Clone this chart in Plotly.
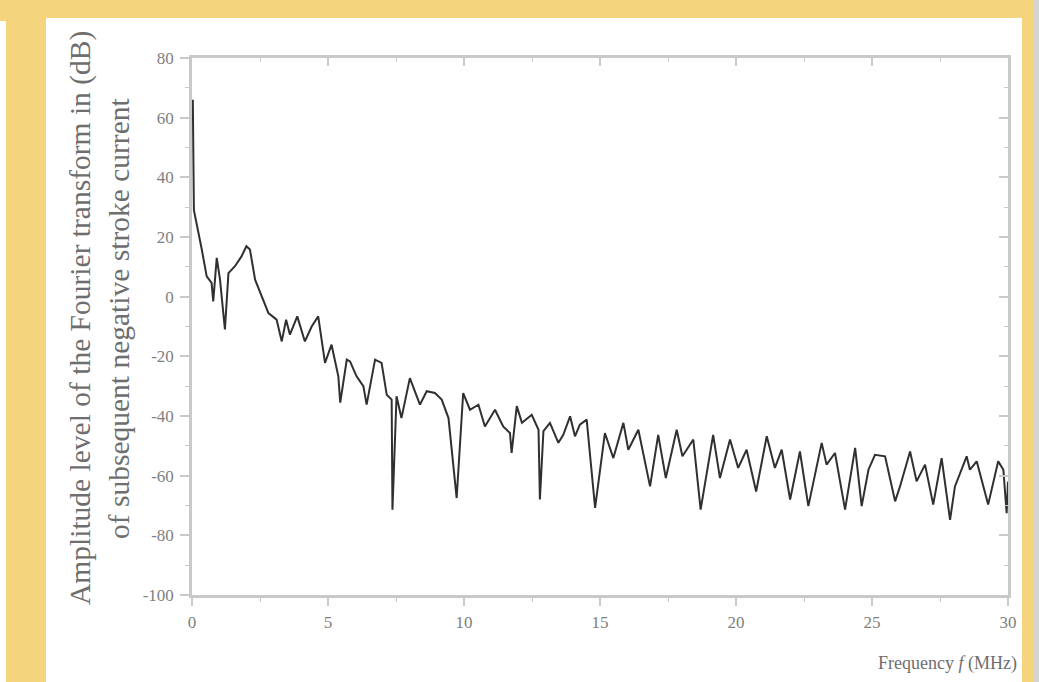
import plotly.graph_objects as go

# ---------------- data ----------------
freq_mhz = [0.03, 0.07, 0.36, 0.54, 0.72, 0.78, 0.91, 1.03, 1.21, 1.34, 1.58, 1.82, 2.0, 2.13,
            2.32, 2.56, 2.81, 3.11, 3.3, 3.46, 3.6, 3.87, 4.15, 4.4, 4.64, 4.89, 5.13, 5.38,
            5.45, 5.69, 5.81, 6.05, 6.3, 6.42, 6.73, 6.97, 7.16, 7.34, 7.37, 7.52, 7.7, 8.01,
            8.38, 8.63, 8.93, 9.18, 9.43, 9.73, 9.97, 10.22, 10.53, 10.77, 11.14, 11.44, 11.69,
            11.75, 11.94, 12.13, 12.49, 12.74, 12.79, 12.92, 13.16, 13.47, 13.65, 13.9, 14.08,
            14.26, 14.51, 14.82, 15.18, 15.49, 15.86, 16.04, 16.41, 16.84, 17.14, 17.42, 17.82,
            18.03, 18.43, 18.7, 19.16, 19.41, 19.78, 20.08, 20.39, 20.74, 21.13, 21.43, 21.68,
            21.99, 22.35, 22.66, 23.15, 23.33, 23.64, 24.01, 24.38, 24.62, 24.87, 25.11, 25.48,
            25.85, 26.03, 26.4, 26.64, 26.95, 27.25, 27.56, 27.87, 28.05, 28.48, 28.6, 28.85,
            29.27, 29.64, 29.83, 29.95, 30.0]
amplitude_db = [66, 29, 15.8, 6.8, 4.6, -1.6, 13, 5.7, -11, 7.9, 10.2, 13.5, 16.9, 15.8,
                5.7, 0.1, -5.5, -7.7, -15, -7.7, -12.7, -6.6, -15, -10, -6.6, -22.2, -16.1, -26.7,
                -35.5, -21.1, -21.7, -26.7, -30, -36.2, -21.1, -22.2, -32.9, -34.5, -71.4, -33.4, -40.7, -27.3,
                -36.2, -31.7, -32.3, -34.5, -40.7, -67.5, -32.3, -37.9, -36.2, -43.5, -37.9, -43.5, -45.7,
                -52.4, -36.7, -42.3, -39.6, -44.6, -68, -45.1, -42.3, -49, -46.3, -40.1, -46.8,
                -42.9, -41.2, -70.8, -45.7, -54.1, -42.3, -51.3, -44.6, -63.6, -46.3, -60.8, -44.6,
                -53.5, -47.9, -71.4, -46.3, -60.8, -47.9, -57.4, -51.3, -65.3, -46.8, -57.4, -51.3,
                -68, -51.9, -70.2, -49, -56.3, -52.4, -71.4, -50.7, -70.2, -58, -53, -53.5,
                -68.6, -63.6, -51.9, -61.9, -56.3, -69.7, -54.1, -74.8, -63.6, -53.5, -58, -55.2,
                -69.7, -55.2, -58, -72.6, -62]

x_tick_vals = [0, 5, 10, 15, 20, 25, 30]
x_tick_labels = ["0", "5", "10", "15", "20", "25", "30"]
y_tick_vals = [-100, -80, -60, -40, -20, 0, 20, 40, 60, 80]
y_tick_labels = ["-100", "-80", "-60", "-40", "-20", "0", "20", "40", "60", "80"]

y_title_line1 = "Amplitude level of the Fourier transform in (dB)"
y_title_line2 = "of subsequent negative stroke current"
x_title = "Frequency <i>f</i> (MHz)"

# ---------------- layout constants ----------------
W, H = 1039, 682
L, R, T, B = 192, 31, 58, 87
PW, PH = W - L - R, H - T - B


def px(xp):
    return (xp - L) / PW


def py(yp):
    return (H - B - yp) / PH


YELLOW = "#F4D47C"
AXIS = "#c9c9c9"
TEXT = "#6e6e6e"
TICKTEXT = "#808080"
FONT = "Liberation Serif, Times New Roman, serif"

fig = go.Figure()
fig.add_trace(go.Scatter(x=freq_mhz, y=amplitude_db, mode="lines",
                         line=dict(color="#303030", width=2),
                         showlegend=False, hoverinfo="skip"))
# invisible companion trace to host the mirrored (inward) tick axes
fig.add_trace(go.Scatter(x=freq_mhz, y=amplitude_db, mode="lines", xaxis="x2", yaxis="y2",
                         line=dict(width=0), opacity=0, showlegend=False, hoverinfo="skip"))

shapes = [
    dict(type="rect", xref="paper", yref="paper", x0=px(46), x1=px(1022), y0=py(18), y1=py(H + 2),
         fillcolor="white", line=dict(width=0), layer="below"),
    dict(type="rect", xref="paper", yref="paper", x0=px(-2), x1=px(6), y0=py(21), y1=py(H + 2),
         fillcolor="white", line=dict(width=0), layer="below"),
    dict(type="rect", xref="paper", yref="paper", x0=px(1034), x1=px(W + 2), y0=py(-2), y1=py(H + 2),
         fillcolor="#d4d4d4", line=dict(width=0), layer="below"),
]

annotations = [
    dict(text=y_title_line1, xref="paper", yref="paper", x=px(80), y=py(318),
         xanchor="center", yanchor="middle", textangle=-90, showarrow=False,
         font=dict(family=FONT, size=29.5, color=TEXT)),
    dict(text=y_title_line2, xref="paper", yref="paper", x=px(119), y=py(318),
         xanchor="center", yanchor="middle", textangle=-90, showarrow=False,
         font=dict(family=FONT, size=29.5, color=TEXT)),
    dict(text=x_title, xref="paper", yref="paper", x=px(1019), y=py(663),
         xanchor="right", yanchor="middle", showarrow=False,
         font=dict(family=FONT, size=18, color=TEXT)),
]

fig.update_layout(
    width=W, height=H,
    margin=dict(l=L, r=R, t=T, b=B, pad=0),
    paper_bgcolor=YELLOW, plot_bgcolor="white",
    shapes=shapes, annotations=annotations,
    xaxis=dict(range=[0, 30], tickmode="array", tickvals=x_tick_vals, ticktext=x_tick_labels,
               showgrid=False, zeroline=False, showline=True, linecolor=AXIS, linewidth=2.5,
               mirror=True, ticks="outside", ticklen=8, tickwidth=1.5, tickcolor=AXIS,
               ticklabelstandoff=2,
               minor=dict(ticks="outside", dtick=2.5, tick0=0, ticklen=4, tickcolor=AXIS, tickwidth=1.2),
               tickfont=dict(family=FONT, size=17, color=TICKTEXT)),
    yaxis=dict(range=[-100, 80], tickmode="array", tickvals=y_tick_vals, ticktext=y_tick_labels,
               showgrid=False, zeroline=False, showline=True, linecolor=AXIS, linewidth=2.5,
               mirror=True, ticks="outside", ticklen=9, tickwidth=1.5, tickcolor=AXIS,
               ticklabelstandoff=3,
               minor=dict(ticks="outside", dtick=10, tick0=0, ticklen=4, tickcolor=AXIS, tickwidth=1.2),
               tickfont=dict(family=FONT, size=17, color=TICKTEXT)),
    xaxis2=dict(range=[0, 30], overlaying="x", side="top", anchor="y2", showgrid=False,
                zeroline=False, showline=False, showticklabels=False, tickmode="array",
                tickvals=x_tick_vals, ticks="inside", ticklen=8, tickwidth=1.5, tickcolor=AXIS,
                minor=dict(ticks="inside", dtick=2.5, tick0=0, ticklen=4, tickcolor=AXIS, tickwidth=1.2)),
    yaxis2=dict(range=[-100, 80], overlaying="y", side="right", anchor="x2", showgrid=False,
                zeroline=False, showline=False, showticklabels=False, tickmode="array",
                tickvals=y_tick_vals, ticks="inside", ticklen=9, tickwidth=1.5, tickcolor=AXIS,
                minor=dict(ticks="inside", dtick=10, tick0=0, ticklen=4, tickcolor=AXIS, tickwidth=1.2)),
)

fig.write_html("out.html")
